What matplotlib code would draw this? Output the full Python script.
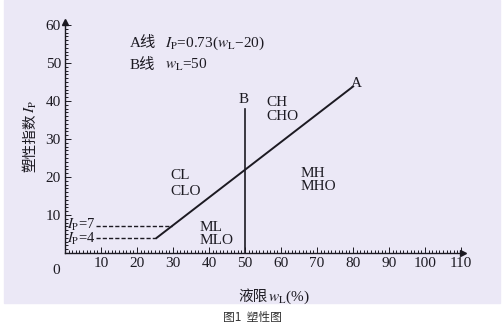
import numpy as np
import matplotlib.pyplot as plt
from matplotlib.patches import Rectangle
from matplotlib.ticker import MultipleLocator

SERIF = ['Liberation Serif', 'Noto Sans CJK SC']
CJK = ['Noto Sans CJK SC', 'DejaVu Sans']
plt.rcParams['font.family'] = SERIF
plt.rcParams['mathtext.fontset'] = 'stix'
INK = '#1c1a22'

# A line: Ip = 0.73 (wL - 20), starting where Ip = 4
a_slope = 0.73
a_offset = 20
wl_start = 4 / a_slope + a_offset
wl_end = 80
b_wl = 50          # B line wL = 50
b_top = 38
ip_limits = [7, 4]  # dashed Ip = 7 and Ip = 4
dash_start = 8.5

x_ticks = [10, 20, 30, 40, 50, 60, 70, 80, 90, 100, 110]
y_ticks = [10, 20, 30, 40, 50, 60]

zones = [('CL', 29.2, 20.3), ('CLO', 29.2, 16.3),
         ('ML', 37.5, 6.8), ('MLO', 37.5, 3.4),
         ('CH', 56.0, 39.5), ('CHO', 56.0, 35.8),
         ('MH', 65.3, 21.0), ('MHO', 65.3, 17.4)]

fig = plt.figure(figsize=(5.04, 3.30), dpi=100)
fig.patch.set_facecolor('white')
# tinted paper area
fig.add_artist(Rectangle((4 / 504, 27 / 330), 496 / 504, 303 / 330,
                         transform=fig.transFigure, color='#ebe8f6', zorder=0))

ax = fig.add_axes([65 / 504, 77 / 330, 396 / 504, 228 / 330])
ax.set_facecolor('none')
ax.set_xlim(0, 110)
ax.set_ylim(0, 60)
for s in ['top', 'right']:
    ax.spines[s].set_visible(False)
for s in ['left', 'bottom']:
    ax.spines[s].set_color(INK)
    ax.spines[s].set_linewidth(1.0)

ax.set_xticks(x_ticks)
ax.set_yticks(y_ticks)
ax.xaxis.set_minor_locator(MultipleLocator(1))
ax.yaxis.set_minor_locator(MultipleLocator(1))
ax.tick_params(which='both', direction='in', color=INK, width=0.7,
               labelcolor=INK, labelsize=11)
ax.tick_params(which='major', length=4, pad=3)
ax.tick_params(which='minor', length=2)
ax.text(-2.5, -4.5, '0', ha='center', va='center', fontsize=11,
        color=INK, clip_on=False)

# axis arrows
ax.plot([110.5], [0], marker='>', ms=4, color=INK, clip_on=False)
ax.plot([0], [60.8], marker='^', ms=4, color=INK, clip_on=False)

# A line
wl = np.array([wl_start, wl_end])
ax.plot(wl, a_slope * (wl - a_offset), color=INK, lw=1.4)
ax.text(wl_end - 0.5, a_slope * (wl_end - a_offset) + 0.8, 'A', fontsize=11,
        color=INK, ha='left', va='center')

# B line
ax.plot([b_wl, b_wl], [0, b_top], color=INK, lw=1.2)
ax.text(b_wl - 0.3, b_top + 2.3, 'B', fontsize=11,
        color=INK, ha='center', va='center')

# Ip = 7 and Ip = 4 limits
for ip, nudge in zip(ip_limits, [0.35, -0.35]):
    end = ip / a_slope + a_offset
    ax.plot([dash_start, end], [ip, ip], color=INK, lw=1.0, ls=(0, (3, 1.5)))
    ax.text(dash_start, ip + nudge, r'$I_\mathrm{P}$=%d' % ip, fontsize=10.5,
            color=INK, ha='right', va='center')

for name, x, y in zones:
    ax.text(x, y, name, fontsize=11, color=INK, ha='left', va='center')

# notes for the two lines
ax.text(18, 55.3, 'A线', fontsize=11, color=INK, va='center')
ax.text(27.8, 55.3, r'$I_\mathrm{P}$=0.73($w_\mathrm{L}$−20)', fontsize=11,
        color=INK, va='center')
ax.text(18, 49.5, 'B线', fontsize=11, color=INK, va='center')
ax.text(27.8, 49.5, r'$w_\mathrm{L}$=50', fontsize=11, color=INK, va='center')

# axis titles
fig.text(30 / 504, 1 - 172 / 330, '塑性指数', rotation=90, fontsize=10.5,
         family=CJK, color=INK, ha='center', va='bottom')
fig.text(31 / 504, 1 - 113 / 330, r'$I_\mathrm{P}$', rotation=90, fontsize=11,
         color=INK, ha='center', va='bottom')
fig.text(268 / 504, 1 - 297 / 330, '液限', fontsize=10.5, family=CJK,
         color=INK, ha='right', va='center')
fig.text(268 / 504, 1 - 297 / 330, r'$w_\mathrm{L}$(%)', fontsize=11,
         color=INK, ha='left', va='center')

fig.text(252 / 504, 1 - 318 / 330, '图1  塑性图', fontsize=8.5, family=CJK,
         color='#333333', ha='center', va='center')

fig.savefig('out.png', dpi=100)
